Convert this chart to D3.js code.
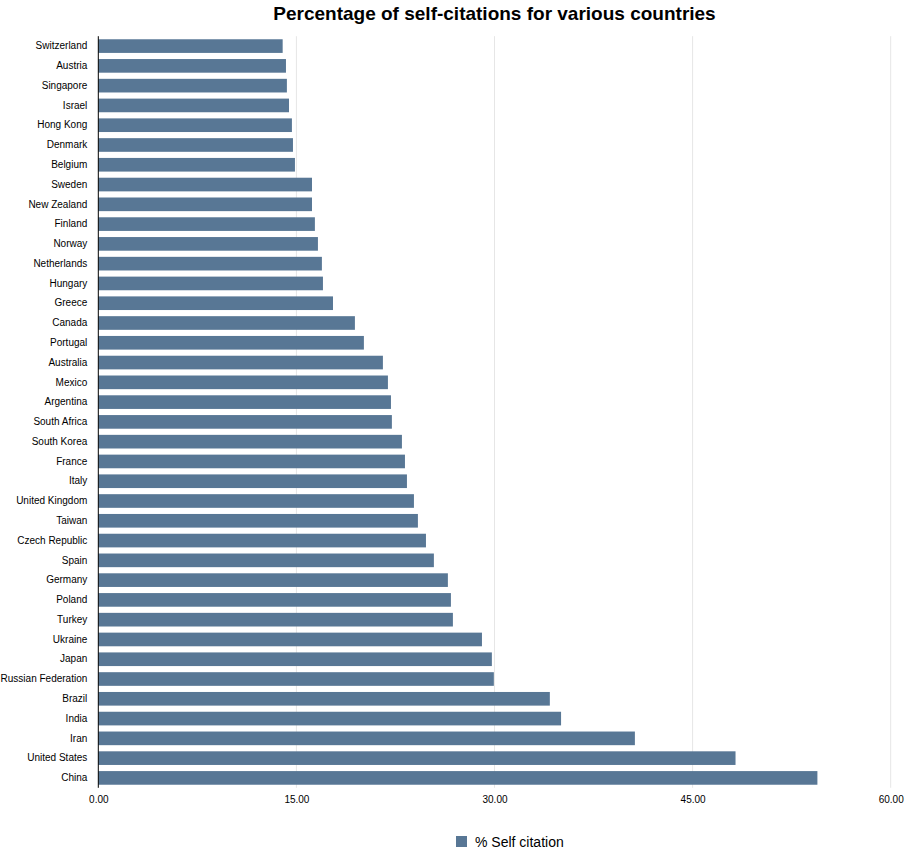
<!DOCTYPE html>
<html><head><meta charset="utf-8">
<script src="https://cdn.jsdelivr.net/npm/d3@7"></script>
<style>body{margin:0;background:#fff;font-family:"Liberation Sans",Arial,sans-serif;}</style>
</head><body>
<svg id="chart" width="917" height="850"></svg>
<script>
const countries = ["Switzerland","Austria","Singapore","Israel","Hong Kong","Denmark","Belgium","Sweden","New Zealand","Finland","Norway","Netherlands","Hungary","Greece","Canada","Portugal","Australia","Mexico","Argentina","South Africa","South Korea","France","Italy","United Kingdom","Taiwan","Czech Republic","Spain","Germany","Poland","Turkey","Ukraine","Japan","Russian Federation","Brazil","India","Iran","United States","China"];
const selfCitation = [13.96,14.21,14.28,14.44,14.66,14.74,14.89,16.18,16.18,16.40,16.63,16.93,17.01,17.77,19.43,20.11,21.55,21.93,22.16,22.23,22.99,23.22,23.37,23.90,24.20,24.81,25.41,26.47,26.70,26.85,29.05,29.80,29.95,34.19,35.04,40.63,48.25,54.45];
const xTicks = [0,15,30,45,60];
const seriesName = "% Self citation";
const titleText = "Percentage of self-citations for various countries";

const svg = d3.select("#chart");
const mLeft = 98.3, mRight = 890.7, mTop = 36.2, mBottom = 787.8;
const x = d3.scaleLinear().domain([0,60]).range([mLeft,mRight]);
const y = d3.scaleBand().domain(countries).range([mTop,mBottom]).paddingInner(0.31).paddingOuter(0.155);
const color = "#587795";
const FONT = "Liberation Sans, Arial, sans-serif";

// gridlines
svg.append("g").selectAll("line").data(xTicks.filter(d=>d>0)).join("line")
  .attr("x1",d=>x(d)).attr("x2",d=>x(d)).attr("y1",mTop).attr("y2",mBottom)
  .attr("stroke","#e6e6e6").attr("stroke-width",1);

// bars
svg.append("g").selectAll("rect").data(countries).join("rect")
  .attr("x",x(0)).attr("y",d=>y(d))
  .attr("width",(d,i)=>x(selfCitation[i])-x(0))
  .attr("height",y.bandwidth()).attr("fill",color);

// x axis labels
const xAxis = d3.axisBottom(x).tickValues(xTicks).tickFormat(d3.format(".2f")).tickSize(0).tickPadding(8);
const gx = svg.append("g").attr("transform",`translate(0,${mBottom})`).call(xAxis);
gx.select(".domain").remove();
gx.selectAll("text").attr("font-family",FONT).attr("font-size","10px").attr("fill","#000");

// y axis
const yAxis = d3.axisLeft(y).tickSize(0).tickPadding(11);
const gy = svg.append("g").attr("transform",`translate(${mLeft},0)`).call(yAxis);
gy.select(".domain").attr("stroke","#000").attr("d",`M0,${mTop}V${mBottom}`);
gy.selectAll("text").attr("font-family",FONT).attr("font-size","10px").attr("fill","#000");

// title
svg.append("text").attr("x",(mLeft+mRight)/2).attr("y",20).attr("text-anchor","middle")
  .attr("font-family",FONT).attr("font-weight","bold").attr("font-size","19px")
  .text(titleText);

// legend
const lg = svg.append("g");
lg.append("rect").attr("x",456).attr("y",836).attr("width",11).attr("height",11).attr("fill",color);
lg.append("text").attr("x",475).attr("y",847).attr("font-family",FONT).attr("font-size","14px").text(seriesName);
</script>
</body></html>
